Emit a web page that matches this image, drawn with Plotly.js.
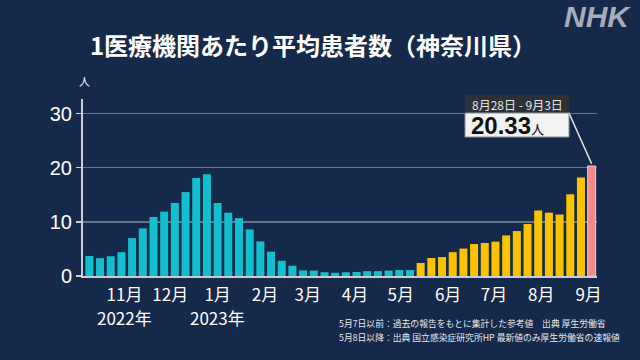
<!DOCTYPE html>
<html>
<head>
<meta charset="utf-8">
<script src="https://cdn.plot.ly/plotly-3.0.1.min.js"></script>
<style>
html,body{margin:0;padding:0;background:#15294a;}
#chart{width:640px;height:360px;}
</style>
</head>
<body>
<div id="chart"></div>
<script>
// Weekly periods (week-ending dates)
const pastDates = ["2022-10-09","2022-10-16","2022-10-23","2022-10-30","2022-11-06","2022-11-13","2022-11-20","2022-11-27",
  "2022-12-04","2022-12-11","2022-12-18","2022-12-25","2023-01-01","2023-01-08","2023-01-15","2023-01-22","2023-01-29",
  "2023-02-05","2023-02-12","2023-02-19","2023-02-26","2023-03-05","2023-03-12","2023-03-19","2023-03-26",
  "2023-04-02","2023-04-09","2023-04-16","2023-04-23","2023-04-30","2023-05-07"];
const pastValues = [3.7,3.3,3.65,4.4,7.0,8.8,10.9,11.9,13.5,15.5,18.1,18.8,13.5,11.7,10.7,8.6,6.4,4.5,2.8,1.9,1.05,1.0,0.7,0.6,0.7,0.75,0.9,0.9,1.0,1.1,1.1];
const recentDates = ["2023-05-14","2023-05-21","2023-05-28","2023-06-04","2023-06-11","2023-06-18","2023-06-25",
  "2023-07-02","2023-07-09","2023-07-16","2023-07-23","2023-07-30","2023-08-06","2023-08-13","2023-08-20","2023-08-27"];
const recentValues = [2.4,3.33,3.5,4.4,5.06,5.9,6.1,6.35,7.5,8.3,9.6,12.1,11.7,11.35,15.1,18.2];
const latestDates = ["2023-09-03"];
const latestValues = [20.33];
const latestLabel = "8月28日 - 9月3日";

const tickVals = ["2022-11-01","2022-12-01","2023-01-01","2023-02-01","2023-03-01","2023-04-01","2023-05-01","2023-06-01","2023-07-01","2023-08-01","2023-09-01"];
const tickText = ["11月","12月","1月","2月","3月","4月","5月","6月","7月","8月","9月"];
const yearVals = ["2022-11-01","2023-01-01"];
const yearText = ["2022年","2023年"];
const yTicks = [0,10,20,30];
const notes = ["5月7日以前：過去の報告をもとに集計した参考値　出典 厚生労働省",
               "5月8日以降：出典 国立感染症研究所HP 最新値のみ厚生労働省の速報値"];

const F = '"Noto Sans CJK JP", "Noto Sans", sans-serif';
const BG = '#15294a';
const W = 640, H = 360, L = 83, R = 43, T = 99, B = 84;
const px = x => (x - L) / (W - L - R);
const py = y => (H - B - y) / (H - T - B);
const barW = 7 * 0.75 * 86400000;

const traces = [
  {type:'bar', x:pastDates, y:pastValues, width:barW, marker:{color:'#14bfcc'}, hoverinfo:'none'},
  {type:'bar', x:recentDates, y:recentValues, width:barW, marker:{color:'#f8c300'}, hoverinfo:'none'},
  {type:'bar', x:latestDates, y:latestValues, width:barW, marker:{color:'#ee8a8a', line:{color:'#f6c8c8', width:1}}, hoverinfo:'none'}
];

const annotations = [
  {text:latestLabel, xref:'paper', yref:'paper', x:px(517), y:py(104), xanchor:'center', yanchor:'middle',
   showarrow:false, font:{family:F, size:12, color:'#e6e6e6'}},
  {text:'<b>'+latestValues[0].toFixed(2)+'</b><span style="font-size:13px">人</span>', xref:'paper', yref:'paper', x:px(469), y:py(125.5), xanchor:'left', yanchor:'middle',
   showarrow:false, font:{family:'"Liberation Sans", "Noto Sans CJK JP", sans-serif', size:24, color:'#111111'}},
  {text:'人', xref:'paper', yref:'paper', x:px(84), y:py(81), xanchor:'center', yanchor:'middle',
   showarrow:false, font:{family:F, size:11, color:'#ffffff'}},
  {text:'<b><i>NHK</i></b>', xref:'paper', yref:'paper', x:px(633), y:py(16), xanchor:'right', yanchor:'middle',
   showarrow:false, font:{family:'"Liberation Sans", sans-serif', size:30, color:'#a6adb8'}}
];
yearVals.forEach((v, i) => annotations.push({
  text:yearText[i], xref:'x', yref:'paper', x:v, y:py(317.5), xanchor:'center', yanchor:'middle',
  showarrow:false, font:{family:F, size:17, color:'#ffffff'}
}));
notes.forEach((t, i) => annotations.push({
  text:t, xref:'paper', yref:'paper', x:px(337), y:py(323 + i * 14), xanchor:'left', yanchor:'middle', align:'left',
  showarrow:false, font:{family:F, size:8.8, color:'#e8e8e8'}
}));

const layout = {
  width:W, height:H,
  paper_bgcolor:BG, plot_bgcolor:BG,
  margin:{l:L, r:R, t:T, b:B},
  showlegend:false,
  barmode:'overlay',
  font:{family:F, color:'#ffffff'},
  xaxis:{
    type:'date', range:['2022-10-04 20:00','2023-09-06 12:00'],
    tickmode:'array', tickvals:tickVals, ticktext:tickText,
    tickfont:{family:F, size:17, color:'#ffffff'},
    ticklabelstandoff:3,
    showgrid:false, zeroline:false,
    showline:true, linecolor:'#c9ced6', linewidth:2,
    ticks:'', fixedrange:true
  },
  yaxis:{
    range:[0,32.7], tickmode:'array', tickvals:yTicks,
    tickfont:{family:'"Liberation Sans", "Noto Sans", sans-serif', size:20, color:'#ffffff'},
    showgrid:true, gridcolor:'#66748a', gridwidth:1.5,
    zeroline:false, showline:true, linecolor:'#c9ced6', linewidth:2,
    ticks:'outside', ticklen:5, tickcolor:'#c9ced6', tickwidth:1.5,
    fixedrange:true
  },
  title:{
    text:'1医療機関あたり平均患者数（神奈川県）',
    font:{family:F, size:24, color:'#ffffff', weight:'bold'},
    x:313/640, xanchor:'center', y:1 - 47/360, yanchor:'middle', xref:'container', yref:'container'
  },
  shapes:[
    {type:'line', xref:'x', yref:'y', x0:'2023-08-19', y0:30.2, x1:latestDates[0], y1:latestValues[0]+0.4, line:{color:'#e8e8e8', width:1.5}},
    {type:'rect', xref:'paper', yref:'paper', x0:px(465), x1:px(569), y0:py(113), y1:py(95), fillcolor:'#2c3038', line:{width:0}},
    {type:'rect', xref:'paper', yref:'paper', x0:px(465), x1:px(569), y0:py(137), y1:py(113), fillcolor:'#f2f2f2', line:{color:'#8a8f96', width:1}}
  ],
  annotations:annotations
};

Plotly.newPlot('chart', traces, layout, {displayModeBar:false, staticPlot:true});
</script>
</body>
</html>
